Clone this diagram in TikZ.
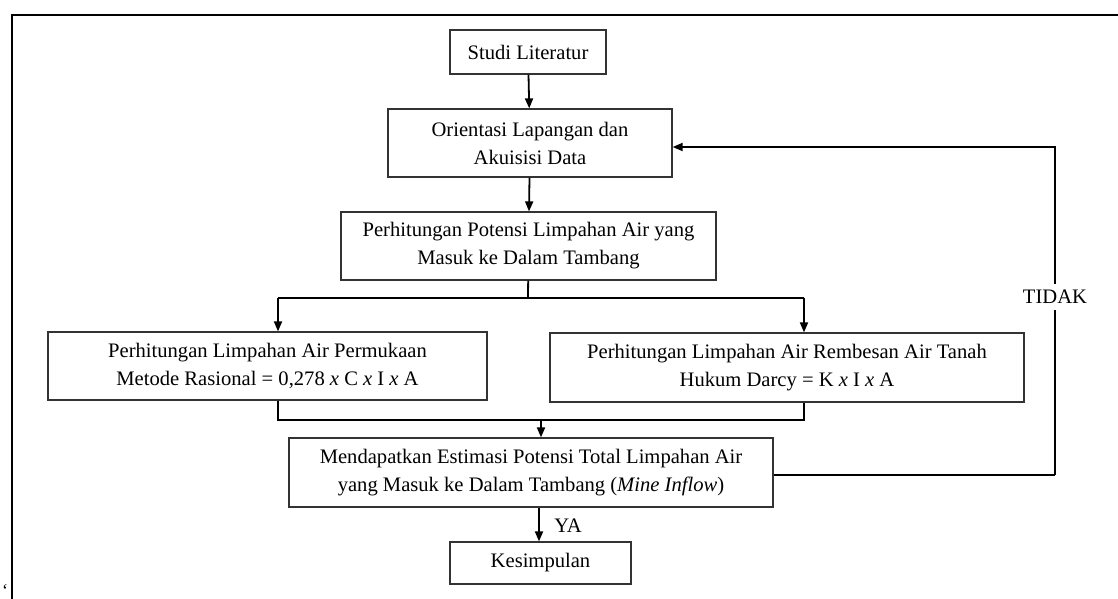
\documentclass[tikz,border=0pt]{standalone}
\usepackage{fontspec}
\setmainfont{Liberation Serif}
\usetikzlibrary{arrows.meta}
\begin{document}
\begin{tikzpicture}[x=0.5pt,y=-0.5pt,
    box/.style={draw=black!80,line width=0.6pt,align=center,inner sep=0pt,
      font=\fontsize{10.3}{14}\selectfont},
    flow/.style={line width=0.9pt,-{Triangle[length=5pt,width=4pt]}},
    link/.style={line width=0.9pt}]
      \useasboundingbox (0,0) rectangle (1118,599);
      \draw[line width=1.3pt] (1118,15) -- (12,15) -- (12,599);
      \node[font=\fontsize{9}{10}\selectfont,inner sep=0pt] (tick) at (5,590) {‘};
      \draw
        (528,52) node[box,minimum width=78pt,minimum height=22pt] (studi){Studi Literatur}
        (530,143) node[box,minimum width=142pt,minimum height=34pt] (orientasi){Orientasi Lapangan dan\\Akuisisi Data}
        (528.5,246) node[box,minimum width=187.5pt,minimum height=34pt] (potensi){Perhitungan Potensi Limpahan Air yang\\Masuk ke Dalam Tambang}
        (267.5,366) node[box,minimum width=219.5pt,minimum height=34pt] (permukaan){Perhitungan Limpahan Air Permukaan\\Metode Rasional = 0,278 \textit{x} C \textit{x} I \textit{x} A}
        (787,367.5) node[box,minimum width=237pt,minimum height=34.5pt] (rembesan){Perhitungan Limpahan Air Rembesan Air Tanah\\Hukum Darcy = K \textit{x} I \textit{x} A}
        (531,472.5) node[box,minimum width=242pt,minimum height=34.5pt] (total){Mendapatkan Estimasi Potensi Total Limpahan Air\\yang Masuk ke Dalam Tambang (\textit{Mine Inflow})}
        (540.5,563) node[box,minimum width=90.5pt,minimum height=21pt] (kesimpulan){Kesimpulan};
      \coordinate (split) at (528,298);
      \coordinate (splitL) at (278,298);
      \coordinate (splitR) at (804,298);
      \coordinate (mergeL) at (278,420);
      \coordinate (mergeR) at (804,420);
      \coordinate (merge) at (541,420);
      \coordinate (backB) at (1055,475);
      \coordinate (backT) at (1055,147);
      \begin{scope}[flow]
        \draw (studi) to (orientasi);
        \draw (orientasi) to (potensi);
        \draw (splitL) to (splitL |- permukaan.north);
        \draw (splitR) to (splitR |- rembesan.north);
        \draw (merge) to (merge |- total.north);
        \draw (total.south -| 539,0) to (kesimpulan.north -| 539,0);
        \draw (backB) -- (backT) to (backT -| orientasi.east);
      \end{scope}
      \begin{scope}[link]
        \draw (potensi) -- (split);
        \draw (splitL) -- (splitR);
        \draw (permukaan.south -| mergeL) -- (mergeL) -- (mergeR) -- (rembesan.south -| mergeR);
        \draw (total.east |- backB) -- (backB);
      \end{scope}
      \node[fill=white,inner sep=3pt,font=\fontsize{10.3}{14}\selectfont] (tidak) at (1055,297) {TIDAK};
      \node[font=\fontsize{10.3}{14}\selectfont] (ya) at (568,526) {YA};
    \end{tikzpicture}
\end{document}
